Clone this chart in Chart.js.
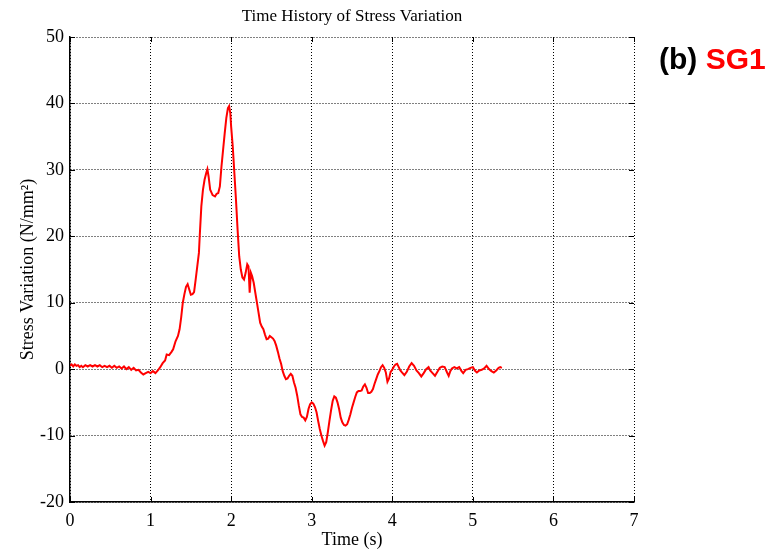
<!DOCTYPE html>
<html>
<head>
<meta charset="utf-8">
<title>Time History of Stress Variation</title>
<script src="https://cdn.jsdelivr.net/npm/chart.js@4.4.1/dist/chart.umd.min.js"></script>
<style>
  html, body { margin: 0; padding: 0; background: #fff; }
  canvas { display: block; }
</style>
</head>
<body>
<canvas id="stressChart" width="783" height="551"></canvas>
<script>
// strain gauge SG1 record: time (s) and stress variation (N/mm2)
const timeSec = [
  0.00, 0.02, 0.04, 0.06, 0.08, 0.10, 0.12, 0.14, 0.16, 0.19,
  0.22, 0.25, 0.28, 0.31, 0.34, 0.37, 0.40, 0.43, 0.46, 0.49,
  0.52, 0.55, 0.58, 0.61, 0.64, 0.67, 0.70, 0.73, 0.76, 0.79,
  0.82, 0.85, 0.88, 0.91, 0.94, 0.97, 1.00, 1.03, 1.06, 1.09,
  1.12, 1.15, 1.18, 1.20, 1.23, 1.26, 1.28, 1.31, 1.34, 1.36,
  1.38, 1.40, 1.42, 1.44, 1.46, 1.48, 1.50, 1.52, 1.54, 1.56,
  1.58, 1.60, 1.61, 1.63, 1.65, 1.67, 1.69, 1.705, 1.72, 1.74,
  1.77, 1.80, 1.82, 1.84, 1.86, 1.88, 1.90, 1.92, 1.94, 1.96,
  1.975, 1.99, 2.00, 2.02, 2.04, 2.06, 2.08, 2.10, 2.12, 2.14,
  2.16, 2.18, 2.20, 2.215, 2.23, 2.245, 2.26, 2.28, 2.30, 2.32,
  2.34, 2.36, 2.38, 2.40, 2.42, 2.44, 2.46, 2.48, 2.50, 2.52,
  2.54, 2.56, 2.58, 2.60, 2.62, 2.64, 2.66, 2.68, 2.70, 2.72,
  2.74, 2.76, 2.78, 2.80, 2.82, 2.84, 2.86, 2.88, 2.90, 2.92,
  2.94, 2.96, 2.98, 3.00, 3.02, 3.04, 3.06, 3.08, 3.10, 3.12,
  3.14, 3.16, 3.18, 3.20, 3.22, 3.24, 3.26, 3.28, 3.30, 3.32,
  3.34, 3.36, 3.38, 3.40, 3.42, 3.44, 3.46, 3.48, 3.50, 3.52,
  3.54, 3.56, 3.58, 3.60, 3.62, 3.64, 3.66, 3.68, 3.70, 3.72,
  3.74, 3.76, 3.78, 3.80, 3.82, 3.84, 3.86, 3.88, 3.90, 3.92,
  3.94, 3.96, 3.98, 4.00, 4.02, 4.04, 4.06, 4.08, 4.10, 4.12,
  4.15, 4.18, 4.21, 4.24, 4.27, 4.30, 4.33, 4.36, 4.39, 4.42,
  4.45, 4.47, 4.50, 4.53, 4.56, 4.59, 4.62, 4.65, 4.68, 4.70,
  4.72, 4.74, 4.77, 4.80, 4.83, 4.86, 4.88, 4.91, 4.94, 4.97,
  5.00, 5.03, 5.05, 5.08, 5.11, 5.14, 5.17, 5.20, 5.23, 5.26,
  5.29, 5.32, 5.34, 5.36
];
const stress = [
  0.5, 0.7, 0.4, 0.7, 0.5, 0.6, 0.3, 0.5, 0.3, 0.6,
  0.4, 0.6, 0.4, 0.6, 0.4, 0.6, 0.3, 0.5, 0.3, 0.5,
  0.2, 0.5, 0.2, 0.4, 0.1, 0.4, 0.0, 0.3, -0.1, 0.2,
  -0.2, -0.1, -0.5, -0.8, -0.6, -0.4, -0.6, -0.3, -0.6, -0.2,
  0.3, 0.9, 1.3, 2.2, 2.1, 2.6, 3.0, 4.2, 5.0, 6.0,
  7.8, 10.0, 11.3, 12.4, 12.8, 12.0, 11.2, 11.3, 11.6, 13.5,
  15.5, 17.5, 20.0, 24.5, 27.0, 28.5, 29.5, 30.1, 29.0, 27.0,
  26.2, 26.0, 26.4, 26.5, 27.5, 30.5, 33.0, 35.5, 37.8, 39.3,
  39.6, 38.5, 36.5, 33.5, 29.5, 25.5, 21.0, 17.0, 15.0, 13.8,
  13.5, 14.5, 15.8, 15.5, 11.5, 14.5, 14.0, 13.0, 11.5, 10.0,
  8.5, 7.0, 6.4, 6.0, 5.2, 4.5, 4.6, 5.0, 4.8, 4.6,
  4.2, 3.5, 2.6, 1.6, 0.8, -0.3, -1.0, -1.5, -1.4, -1.0,
  -0.7, -1.0, -2.0, -2.8, -4.0, -5.5, -6.8, -7.2, -7.3, -7.7,
  -7.2, -6.0, -5.3, -5.0, -5.2, -5.7, -6.5, -7.8, -9.0, -10.0,
  -10.8, -11.5, -11.0, -9.5, -7.8, -6.2, -4.8, -4.1, -4.3, -5.0,
  -6.0, -7.3, -8.0, -8.4, -8.5, -8.3, -7.6, -6.8, -5.8, -5.0,
  -4.2, -3.5, -3.3, -3.3, -3.2, -2.6, -2.3, -2.8, -3.6, -3.6,
  -3.4, -3.0, -2.2, -1.5, -0.8, -0.3, 0.3, 0.6, 0.2, -0.5,
  -1.9, -1.4, -0.4, -0.1, 0.4, 0.7, 0.8, 0.3, -0.2, -0.5,
  -0.9, -0.4, 0.4, 0.9, 0.5, -0.2, -0.6, -1.1, -0.6, 0.0,
  0.3, -0.2, -0.6, -1.0, -0.4, 0.2, 0.4, 0.3, -0.5, -1.0,
  -0.3, 0.1, 0.3, 0.1, 0.3, -0.3, -0.6, -0.1, 0.0, 0.2,
  0.3, -0.3, -0.5, -0.2, -0.1, 0.1, 0.5, 0.0, -0.3, -0.5,
  -0.2, 0.2, 0.3, 0.2
];

// axis ranges and tick spacing
const xRange = [0, 7];
const yRange = [-20, 50];
const xStep = 1;
const yStep = 10;

const serif = "'Liberation Serif', 'Times New Roman', serif";

// short inward tick marks on all four sides of the plot box
const inwardTicks = {
  id: 'inwardTicks',
  afterDatasetsDraw(chart) {
    const { ctx, chartArea: a, scales: { x, y } } = chart;
    const len = 5;
    ctx.save();
    ctx.strokeStyle = '#000';
    ctx.lineWidth = 1;
    ctx.beginPath();
    x.ticks.forEach(t => {
      const px = Math.round(x.getPixelForValue(t.value)) + 0.5;
      ctx.moveTo(px, a.bottom); ctx.lineTo(px, a.bottom - len);
      ctx.moveTo(px, a.top); ctx.lineTo(px, a.top + len);
    });
    y.ticks.forEach(t => {
      const py = Math.round(y.getPixelForValue(t.value)) + 0.5;
      ctx.moveTo(a.left, py); ctx.lineTo(a.left + len, py);
      ctx.moveTo(a.right, py); ctx.lineTo(a.right - len, py);
    });
    ctx.stroke();
    ctx.restore();
  }
};

// panel tag drawn to the right of the plot
const panelTag = {
  id: 'panelTag',
  afterDraw(chart) {
    const ctx = chart.ctx;
    ctx.save();
    ctx.font = "bold 30px 'Liberation Sans', Arial, sans-serif";
    ctx.textBaseline = 'alphabetic';
    ctx.textAlign = 'left';
    ctx.fillStyle = '#000';
    ctx.fillText('(b)', 659, 69);
    const w = ctx.measureText('(b) ').width;
    ctx.fillStyle = '#ff0000';
    ctx.fillText('SG1', 659 + w, 69);
    ctx.restore();
  }
};

new Chart(document.getElementById('stressChart'), {
  type: 'line',
  data: {
    datasets: [{
      label: 'SG1',
      data: timeSec.map((t, i) => ({ x: t, y: stress[i] })),
      borderColor: '#ff0000',
      borderWidth: 2,
      pointRadius: 0,
      tension: 0,
      fill: false
    }]
  },
  options: {
    responsive: false,
    animation: false,
    devicePixelRatio: 1,
    layout: { padding: { top: 0, right: 149, bottom: 0, left: 0 } },
    plugins: {
      legend: { display: false },
      tooltip: { enabled: false },
      title: {
        display: true,
        fullSize: false,
        text: 'Time History of Stress Variation',
        color: '#000',
        font: { family: serif, size: 17, weight: 'normal' },
        padding: { top: 6, bottom: 10.6 }
      }
    },
    scales: {
      x: {
        type: 'linear',
        min: xRange[0],
        max: xRange[1],
        afterFit: s => { s.height = 49; },
        ticks: {
          stepSize: xStep,
          color: '#000',
          padding: 8,
          font: { family: serif, size: 18 }
        },
        grid: { color: '#000', lineWidth: 1, drawTicks: false },
        border: { display: true, color: '#000', width: 1.5, dash: [1, 2] },
        title: {
          display: true,
          text: 'Time (s)',
          color: '#000',
          font: { family: serif, size: 18 },
          padding: { top: 0, bottom: 0 }
        }
      },
      y: {
        min: yRange[0],
        max: yRange[1],
        afterFit: s => { s.width = 70; },
        ticks: {
          stepSize: yStep,
          color: '#000',
          padding: 6,
          font: { family: serif, size: 18 }
        },
        grid: { color: '#000', lineWidth: 1, drawTicks: false },
        border: { display: true, color: '#000', width: 1.5, dash: [1, 2] },
        title: {
          display: true,
          text: 'Stress Variation (N/mm\u00B2)',
          color: '#000',
          font: { family: serif, size: 18 },
          padding: { top: 17, bottom: 0 }
        }
      }
    }
  },
  plugins: [inwardTicks, panelTag]
});
</script>
</body>
</html>
